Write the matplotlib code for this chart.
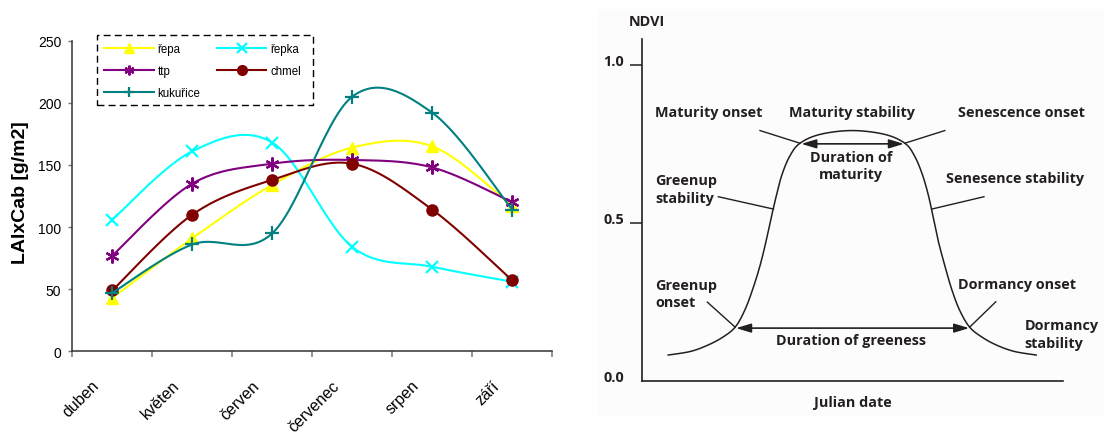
import matplotlib
matplotlib.use('Agg')
import matplotlib.pyplot as plt
import numpy as np
from matplotlib.patches import Rectangle
from matplotlib.transforms import ScaledTranslation

# --- data: LAI x Cab by month ---
months = ['duben', 'květen', 'červen', 'červenec', 'srpen', 'září']
repa = [43, 91, 134, 164, 165, 117]
repka = [106, 161, 168, 84, 68, 56]
ttp = [77, 135, 151, 154, 148, 120]
chmel = [49, 110, 138, 151, 114, 57]
kukurice = [47, 86, 95, 205, 192, 114]

# --- NDVI phenology sketch ---
ndvi_x = [6.3, 11.5, 15.5, 19.1, 22.2, 24.5, 26.4, 28.1, 29.5, 30.7, 31.9, 33.3,
          35.2, 37.6, 42.4, 50.0, 57.7, 62.5, 64.8, 66.7, 68.2, 69.3, 70.5, 72.0,
          73.6, 75.5, 77.9, 81.0, 84.5, 88.6, 93.7]
ndvi_y = [0.083, 0.094, 0.113, 0.138, 0.171, 0.225, 0.292, 0.365, 0.440, 0.513,
          0.582, 0.652, 0.712, 0.752, 0.780, 0.792, 0.780, 0.752, 0.712, 0.652,
          0.582, 0.513, 0.440, 0.365, 0.292, 0.225, 0.171, 0.138, 0.113, 0.094, 0.083]


def smooth(xs, ys, n=30):
    # Bezier smoothing through every point (Catmull-Rom style control points)
    pts = np.column_stack([xs, ys]).astype(float)
    pad = np.vstack([pts[0], pts, pts[-1]])
    out = []
    t = np.linspace(0, 1, n)[:, None]
    for i in range(len(pts) - 1):
        p0, p1, p2, p3 = pad[i], pad[i + 1], pad[i + 2], pad[i + 3]
        c1 = p1 + (p2 - p0) / 6
        c2 = p2 - (p3 - p1) / 6
        seg = (1 - t) ** 3 * p1 + 3 * (1 - t) ** 2 * t * c1 + 3 * (1 - t) * t ** 2 * c2 + t ** 3 * p2
        out.append(seg if i == 0 else seg[1:])
    return np.vstack(out).T


W, H = 1104, 439
fig = plt.figure(figsize=(W / 100, H / 100), dpi=100)
plt.rcParams['font.family'] = ['Liberation Sans', 'DejaVu Sans']

# ---------------- left chart ----------------
ax1 = fig.add_axes([72.3 / W, (H - 352.3) / H, 480 / W, 310.6 / H])
x = np.arange(len(months))
N = 30
every = list(range(0, (len(months) - 1) * (N - 1) + 1, N - 1))

series = [
    ('řepa', repa, '#ffff00', dict(marker='^', ms=9)),
    ('řepka', repka, '#00ffff', dict(marker='x', ms=9, mew=1.6)),
    ('ttp', ttp, '#800080', dict(marker=(6, 2, 0), ms=10, mew=1.6)),
    ('chmel', chmel, '#800000', dict(marker='o', ms=8)),
    ('kukuřice', kukurice, '#008080', dict(marker='+', ms=10, mew=1.6)),
]
handles = {}
for name, vals, col, mk in series:
    sx, sy = smooth(x, vals, N)
    line, = ax1.plot(sx, sy, color=col, lw=1.5, markevery=every,
                     mfc=col, mec=col, label=name, **mk)
    handles[name] = line

ax1.set_xlim(-0.5, 5.5)
ax1.set_ylim(0, 250)
ax1.set_yticks(np.arange(0, 251, 50))
ax1.set_xticks(np.arange(-0.5, 6, 1))
ax1.set_xticklabels([])
for s in ['top', 'right']:
    ax1.spines[s].set_visible(False)
for s in ['left', 'bottom']:
    ax1.spines[s].set_color('#333333')
    ax1.spines[s].set_linewidth(1.1)
ax1.tick_params(axis='y', direction='out', length=3, width=1, color='#777777',
                labelsize=10, pad=5)
ax1.tick_params(axis='x', direction='out', length=4.5, width=1.1, color='#777777')

off = ScaledTranslation(-10 / 100, -26 / 100, fig.dpi_scale_trans)
for i, m in enumerate(months):
    ax1.text(i, 0, m, transform=ax1.get_xaxis_transform() + off, rotation=45,
             ha='right', va='top', fontsize=11.5, clip_on=False)

fig.text(20.8 / W, 1 - 192.8 / H, 'LAIxCab [g/m2]', rotation=90, ha='center',
         va='center', fontsize=14, fontweight='bold')

order = ['řepa', 'ttp', 'kukuřice', 'řepka', 'chmel']
leg = fig.legend([handles[k] for k in order], order, ncol=2, frameon=False,
                 loc='upper left', bbox_to_anchor=(104 / W, 1 - 44.5 / H),
                 borderpad=0, borderaxespad=0, fontsize=8.3, handlelength=4.3,
                 handletextpad=0.36, columnspacing=1.4, labelspacing=0.85)
for h in leg.legend_handles:
    h.set_markersize(7)
fig.patches.append(Rectangle((97.3 / W, 1 - 106 / H), (313.3 - 97.3) / W, 70 / H,
                             transform=fig.transFigure, fill=False, ec='black',
                             lw=1, ls=(0, (5, 3))))

# ---------------- right sketch ----------------
fig.patches.append(Rectangle((596.7 / W, 1 - 416.7 / H), (W - 596.7) / W, 406.7 / H,
                             transform=fig.transFigure, fc='#fcfcfc', ec='none', zorder=-5))

ink = '#231f20'
ax2 = fig.add_axes([641.7 / W, (H - 382.3) / H, 421 / W, 342.3 / H])
ax2.set_facecolor('none')
ax2.set_xlim(0, 100)
ax2.set_ylim(0, 342.3 / 316.6)
for s in ['top', 'right']:
    ax2.spines[s].set_visible(False)
for s in ['left', 'bottom']:
    ax2.spines[s].set_color(ink)
    ax2.spines[s].set_linewidth(1.2)
ax2.set_xticks([])
ax2.set_yticks([0.5, 1.0])
ax2.set_yticklabels([])
ax2.tick_params(axis='y', direction='out', length=9, width=1.1, color=ink)

cx, cy = smooth(ndvi_x, ndvi_y, 20)
ax2.plot(cx, cy, color=ink, lw=1.1, clip_on=False)

tf = dict(family=['Open Sans', 'DejaVu Sans'], fontweight='bold', fontsize=10.4,
          color=ink)
for v in [1.0, 0.5, 0.0]:
    ax2.text(-4.1, v, f'{v:.1f}', ha='right', va='baseline', **tf)
ax2.text(-3.0, 1.139, 'NDVI', ha='left', va='center', **tf)
ax2.text(50.1, -0.066, 'Julian date', ha='center', va='center', **tf)

labels = [
    (3.2, 0.85, 'Maturity onset', 'left'),
    (49.9, 0.85, 'Maturity stability', 'center'),
    (75.2, 0.85, 'Senescence onset', 'left'),
    (49.7, 0.681, 'Duration of\nmaturity', 'center'),
    (3.2, 0.607, 'Greenup\nstability', 'left'),
    (72.3, 0.641, 'Senesence stability', 'left'),
    (3.2, 0.277, 'Greenup\nonset', 'left'),
    (75.2, 0.307, 'Dormancy onset', 'left'),
    (90.9, 0.149, 'Dormancy\nstability', 'left'),
    (49.6, 0.131, 'Duration of greeness', 'center'),
]
for lx, ly, txt, ha in labels:
    ax2.text(lx, ly, txt, ha=ha, va='center', linespacing=1.3, clip_on=False,
             multialignment=ha, **tf)

leaders = [
    ((28.1, 0.792), (37.6, 0.752)),
    ((72.0, 0.792), (62.5, 0.752)),
    ((18.2, 0.583), (31.3, 0.544)),
    ((81.3, 0.583), (68.9, 0.544)),
    ((15.6, 0.250), (22.2, 0.171)),
    ((84.1, 0.251), (77.9, 0.171)),
]
for (x0, y0), (x1, y1) in leaders:
    ax2.plot([x0, x1], [y0, y1], color=ink, lw=1.0, clip_on=False)

arrow = dict(arrowstyle='<|-|>,head_length=0.6,head_width=0.18', color=ink, lw=1.2,
             shrinkA=0, shrinkB=0, mutation_scale=15)
ax2.annotate('', xy=(62.3, 0.75), xytext=(37.9, 0.75), arrowprops=arrow)
ax2.annotate('', xy=(77.8, 0.168), xytext=(22.4, 0.168), arrowprops=arrow)

fig.savefig('out.png', dpi=100)
